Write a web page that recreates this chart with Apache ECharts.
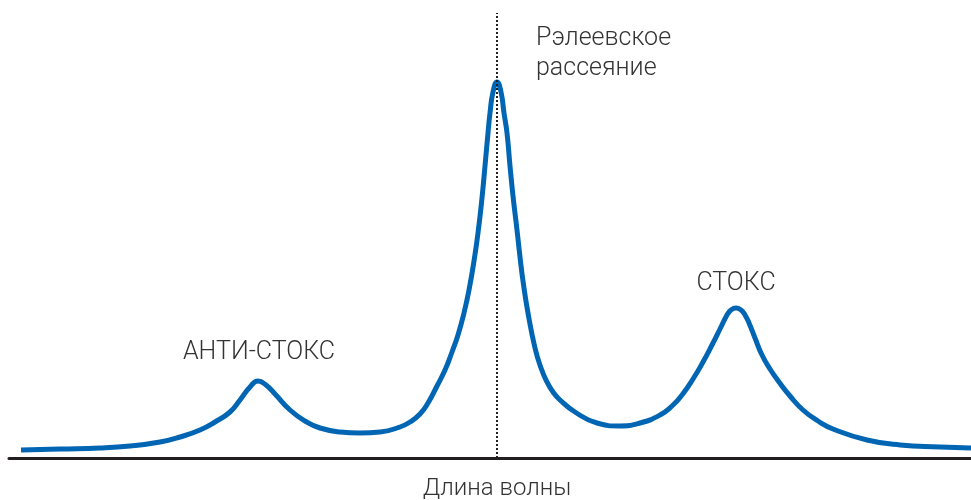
<!DOCTYPE html>
<html>
<head>
<meta charset="utf-8">
<script src="https://cdn.jsdelivr.net/npm/echarts@6/dist/echarts.min.js"></script>
<style>
  html, body { margin: 0; padding: 0; background: #fff; }
  #chart { width: 971px; height: 500px; }
</style>
</head>
<body>
<div id="chart"></div>
<script>
// спектр: длина волны (усл. ед.) и интенсивность (усл. ед.)
var wavelength = [21, 60, 100, 130, 160, 180, 200, 215, 230, 240, 250, 258, 266, 275, 290, 305, 320, 340, 360, 380, 400, 410, 420, 428, 437, 445, 452, 458, 464, 469, 474, 478, 482, 485, 488, 490, 493, 497, 501, 504, 507, 510, 513, 517, 520, 523, 528, 535, 541, 547, 553, 560, 575, 597, 620, 640, 660, 672, 682, 693, 703, 712, 720, 727, 731, 736, 741, 745, 749, 755, 762, 770, 779, 790, 803, 818, 833, 867, 900, 940, 971]
var intensity = [8, 9, 10, 12, 16, 21, 28, 36, 46, 58, 71, 77, 73, 64, 48, 37, 30, 26, 25, 26, 31, 36, 44, 55, 72, 88, 106, 123, 145, 168, 197, 225, 260, 292, 325, 345, 366, 376, 366, 345, 325, 292, 262, 228, 201, 177, 145, 110, 90, 76, 66, 58, 46, 35, 32, 35, 43, 52, 63, 79, 96, 113, 129, 143, 148, 150, 148, 143, 135, 120, 103, 89, 76, 62, 48, 37, 29, 18, 13, 11, 10]
var rayleighPos = 497
var peakLabels = [
  { text: 'АНТИ-СТОКС', x: 259, y: 353 },
  { text: 'СТОКС', x: 736, y: 284 }
]
var axisName = 'Длина волны'

;(function () {
  var myChart = echarts.init(document.getElementById('chart'))
  var data = wavelength.map(function (x, i) { return [x, intensity[i]] })
  var font = 'Roboto, "Liberation Sans", sans-serif'
  var textFont = '300 25px ' + font

  var graphics = peakLabels.map(function (p) {
    return {
      type: 'text', x: p.x, y: p.y,
      style: { text: p.text, fill: '#333', font: textFont, align: 'center', verticalAlign: 'middle' }
    }
  })
  graphics.push({
    type: 'text', x: 536, y: 39,
    style: { text: 'Рэлеевское', fill: '#333', font: textFont, align: 'left', verticalAlign: 'middle' }
  })
  graphics.push({
    type: 'text', x: 536, y: 69,
    style: { text: 'рассеяние', fill: '#333', font: textFont, align: 'left', verticalAlign: 'middle' }
  })
  // подпись оси — по центру под пиком
  graphics.push({
    type: 'text', x: 497, y: 489,
    style: { text: axisName, fill: '#333', font: '300 24px ' + font, align: 'center', verticalAlign: 'middle' }
  })

  var option = {
    animation: false,
    grid: { left: 9, right: 0, top: 13, bottom: 42, containLabel: false, outerBoundsMode: 'none' },
    xAxis: {
      type: 'value',
      min: 9,
      max: 971,
      axisLine: { show: true, lineStyle: { color: '#231f20', width: 3 } },
      axisTick: { show: false },
      axisLabel: { show: false },
      splitLine: { show: false }
    },
    yAxis: {
      type: 'value',
      min: 0,
      max: 445,
      show: false,
      splitLine: { show: false }
    },
    series: [{
      type: 'line',
      data: data,
      smooth: 0.5,
      symbol: 'none',
      lineStyle: { color: '#0066b3', width: 5 },
      markLine: {
        silent: true,
        symbol: 'none',
        label: { show: false },
        lineStyle: { color: '#222', width: 2, type: [2, 2] },
        data: [{ xAxis: rayleighPos }]
      }
    }],
    graphic: graphics
  }
  myChart.setOption(option)
})();
</script>
</body>
</html>
